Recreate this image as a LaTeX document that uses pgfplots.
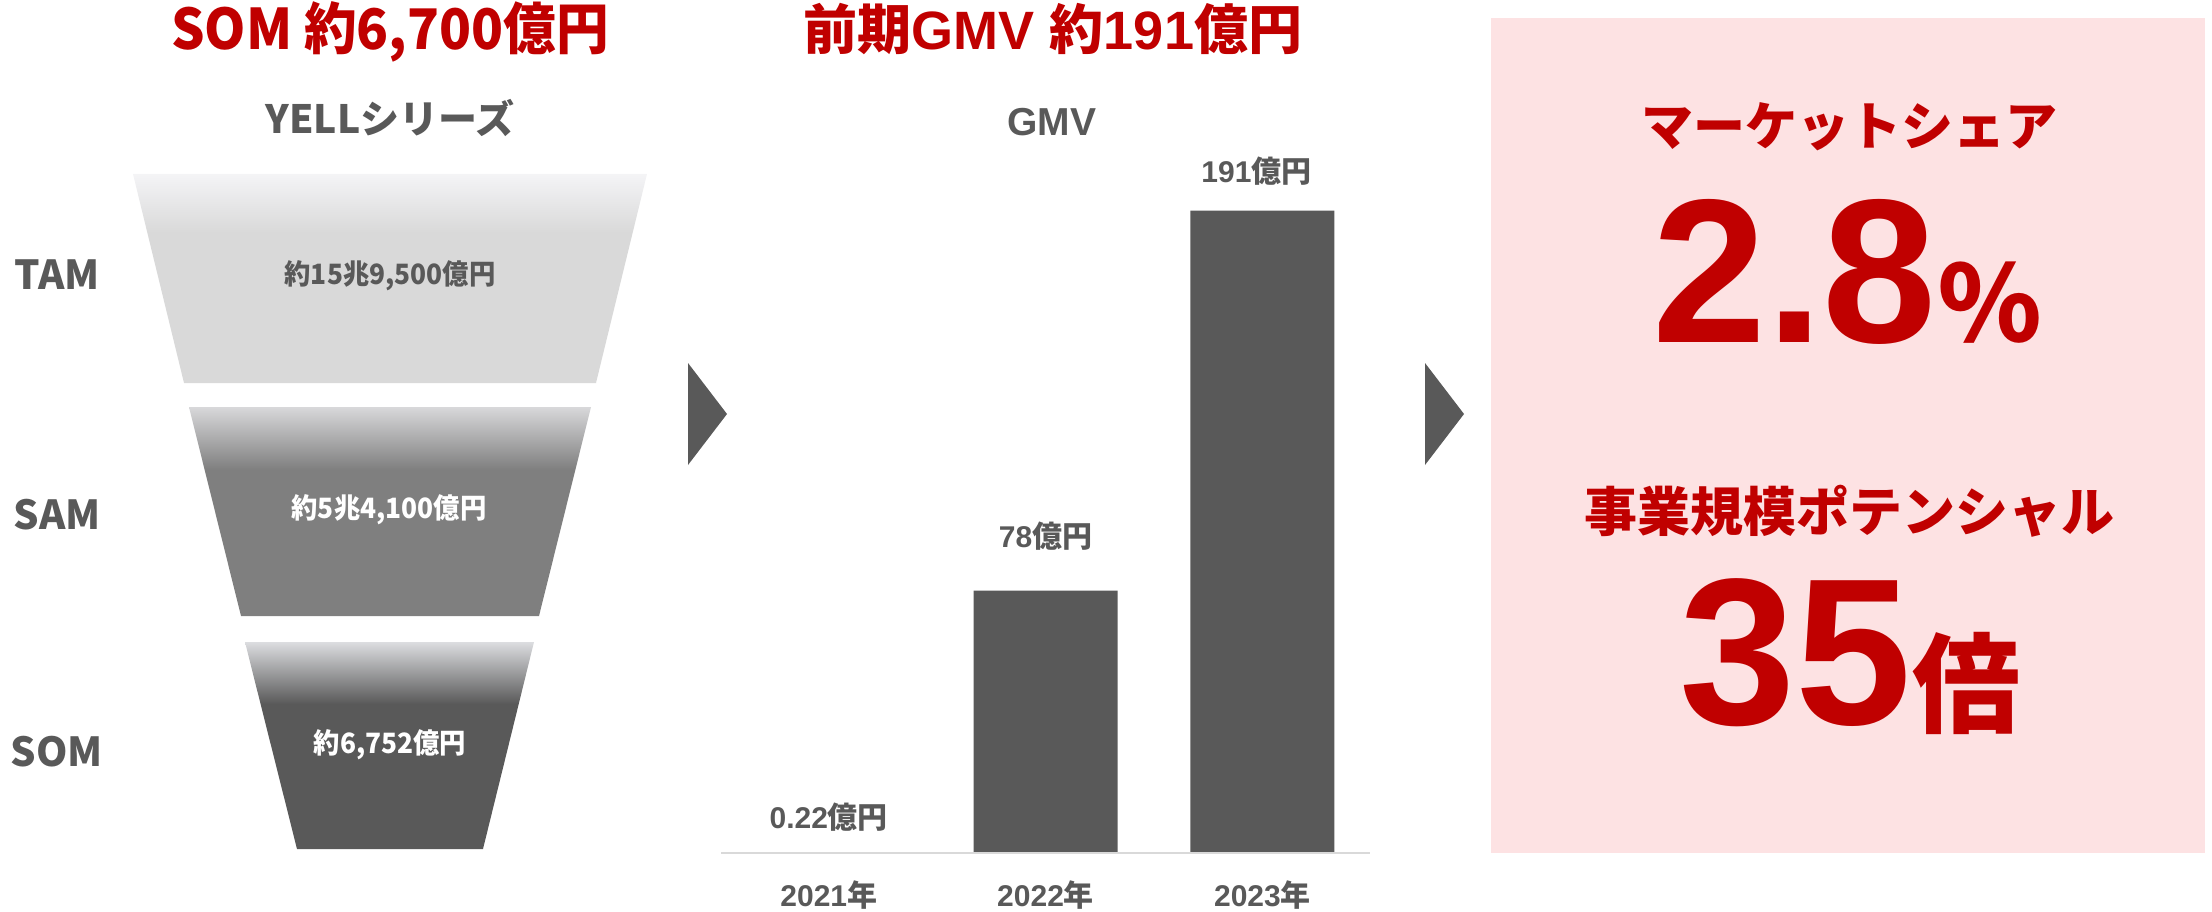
\documentclass[border=0pt]{standalone}
\usepackage{pgfplots}
\pgfplotsset{compat=1.18}
\usepackage{fontspec}
\setmainfont{Liberation Sans}
\newfontfamily\cjk{Noto Sans CJK JP}
\newfontfamily\cjkc{Noto Sans CJK JP}[FakeStretch=0.94]
\newcommand\fsz[1]{\fontsize{#1pt}{#1pt}\selectfont}
\definecolor{cred}{HTML}{C00000}
\definecolor{cgray}{HTML}{595959}
\definecolor{cline}{HTML}{D9D9D9}
\definecolor{cpink}{HTML}{FDE2E3}
\definecolor{tamT}{HTML}{F4F4F6}
\definecolor{tamB}{HTML}{D9D9D9}
\definecolor{samT}{HTML}{D8D8DA}
\definecolor{samB}{HTML}{7F7F7F}
\definecolor{somT}{HTML}{DCDDE0}
\definecolor{somB}{HTML}{595959}
\pgfdeclareverticalshading{tamsh}{100bp}{color(0bp)=(tamB); color(25bp)=(tamB); color(61bp)=(tamB); color(75bp)=(tamT); color(100bp)=(tamT)}
\pgfdeclareverticalshading{samsh}{100bp}{color(0bp)=(samB); color(25bp)=(samB); color(60bp)=(samB); color(75bp)=(samT); color(100bp)=(samT)}
\pgfdeclareverticalshading{somsh}{100bp}{color(0bp)=(somB); color(25bp)=(somB); color(60bp)=(somB); color(75bp)=(somT); color(100bp)=(somT)}
\begin{document}
\begin{tikzpicture}
\path[use as bounding box] (0pt,0pt) rectangle (2212pt,912pt);
% canvas axis in image pixel coordinates (y downwards)
\begin{axis}[at={(0pt,0pt)}, anchor=south west, width=2212pt, height=912pt,
  scale only axis, xmin=0, xmax=2212, ymin=0, ymax=912, y dir=reverse,
  hide axis, clip=false]
% pink panel
\addplot[fill=cpink, draw=none] coordinates {(1491,18) (2205,18) (2205,853) (1491,853)} --cycle;
% funnel
\addplot[draw=none, shading=tamsh, shade] coordinates {(133,174) (647,174) (596,383) (184,383)} --cycle;
\addplot[draw=none, shading=samsh, shade] coordinates {(189,407) (591,407) (539,616) (241,616)} --cycle;
\addplot[draw=none, shading=somsh, shade] coordinates {(245,642) (534,642) (483,849) (297,849)} --cycle;
% arrows
\addplot[fill=cgray, draw=none] coordinates {(688,363) (727,414) (688,465)} --cycle;
\addplot[fill=cgray, draw=none] coordinates {(1425,363) (1464,414) (1425,465)} --cycle;
% texts
\node[text=cred, font=\cjkc\bfseries\fsz{56}] at (axis cs:390,32) {SOM 約6,700億円};
\node[text=cgray, font=\cjk\bfseries\fsz{39}] at (axis cs:390,118) {YELLシリーズ};
\node[text=cgray, font=\cjk\bfseries\fsz{40}] at (axis cs:57,275) {TAM};
\node[text=cgray, font=\cjk\bfseries\fsz{40}] at (axis cs:57,515) {SAM};
\node[text=cgray, font=\cjk\bfseries\fsz{40}] at (axis cs:57,752) {SOM};
\node[text=cgray, font=\cjkc\bfseries\fsz{28}] at (axis cs:390,276) {約15兆9,500億円};
\node[text=white, font=\cjkc\bfseries\fsz{28}] at (axis cs:389,510) {約5兆4,100億円};
\node[text=white, font=\cjkc\bfseries\fsz{28}] at (axis cs:390,745) {約6,752億円};
\node[text=cred, font=\bfseries\fsz{54}] at (axis cs:1053,29) {{\cjk 前期}GMV {\cjk 約}191{\cjk 億円}};
\node[text=cgray, font=\bfseries\fsz{39}] at (axis cs:1052,122) {GMV};
\node[text=cred, font=\cjk\bfseries\fsz{52}] at (axis cs:1849,127) {マーケットシェア};
\node[text=cred, font=\bfseries, anchor=base, inner sep=0pt] at (axis cs:1847,342) {\fsz{205}2.8{\cjk\fsz{105}％}};
\node[text=cred, font=\cjk\bfseries\fsz{53}] at (axis cs:1849,511) {事業規模ポテンシャル};
\node[text=cred, font=\bfseries, anchor=base, inner sep=0pt] at (axis cs:1850,724) {\fsz{209}35{\cjk\fsz{108}倍}};
\end{axis}
% bar chart
\begin{axis}[at={(721pt,59pt)}, anchor=south west, width=649pt, height=700pt,
  scale only axis, ybar, bar width=144pt, axis on top,
  xmin=-0.497, xmax=2.496, ymin=0, ymax=208.15, enlargelimits=false,
  axis y line=none, axis x line=bottom,
  x axis line style={draw=cline, line width=2.5pt, -},
  xtick={0,1,2}, xticklabels={{2021{\cjk 年}},{2022{\cjk 年}},{2023{\cjk 年}}},
  major tick length=0pt,
  xticklabel style={font=\bfseries\fsz{30}, text=cgray, anchor=center, yshift=-42pt},
  clip=false]
\addplot[fill=cgray, draw=none] coordinates {(0,0.22) (1,78) (2,191)};
\node[text=cgray, font=\bfseries\fsz{30}, yshift=35pt] at (axis cs:0,0.22) {0.22{\cjk 億円}};
\node[text=cgray, font=\bfseries\fsz{30}, yshift=55pt] at (axis cs:1,78) {78{\cjk 億円}};
\node[text=cgray, font=\bfseries\fsz{30}, yshift=40pt, xshift=-6pt] at (axis cs:2,191) {191{\cjk 億円}};
\end{axis}
\end{tikzpicture}
\end{document}
